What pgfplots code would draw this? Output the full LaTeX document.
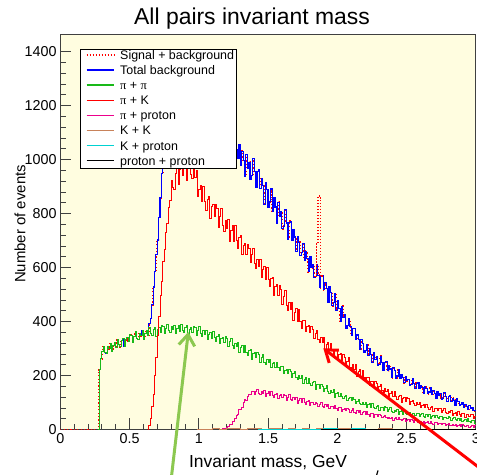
\documentclass[border=0pt]{standalone}
\usepackage{fontspec}
\setmainfont{Liberation Sans}
\newfontfamily\grk{Liberation Serif}
\usepackage{pgfplots}
\usepackage{pgfplotstable}
\pgfplotsset{compat=1.18}
\usetikzlibrary{arrows.meta}

\definecolor{bgyellow}{RGB}{255,253,224}
\definecolor{hgreen}{RGB}{25,185,25}
\definecolor{hbrown}{RGB}{200,130,90}
\definecolor{hcyan}{RGB}{0,210,210}
\definecolor{arrowgreen}{RGB}{140,200,80}

% invariant-mass spectra, 0.01 GeV bins (left bin edges)
% columns: total background, pi+pi, pi+K, pi+proton
\pgfplotstableread{
x tot pipi pik piprot
0.27 0 0 0 0
0.28 222 222 0 0
0.29 262 262 0 0
0.30 289 289 0 0
0.31 308 308 0 0
0.32 285 285 0 0
0.33 282 282 0 0
0.34 306 306 0 0
0.35 299 299 0 0
0.36 319 319 0 0
0.37 289 289 0 0
0.38 310 310 0 0
0.39 323 323 0 0
0.40 304 304 0 0
0.41 333 333 0 0
0.42 314 314 0 0
0.43 306 306 0 0
0.44 329 329 0 0
0.45 338 338 0 0
0.46 307 307 0 0
0.47 332 332 0 0
0.48 340 340 0 0
0.49 325 325 0 0
0.50 351 351 0 0
0.51 347 347 0 0
0.52 323 323 0 0
0.53 345 345 0 0
0.54 363 363 0 0
0.55 338 338 0 0
0.56 334 334 0 0
0.57 356 356 0 0
0.58 347 347 0 0
0.59 366 366 0 0
0.60 335 335 0 0
0.61 356 356 0 0
0.62 368 368 0 0
0.63 347 347 0 0
0.64 392 376 15 0
0.65 412 356 40 0
0.66 462 347 85 0
0.67 528 369 130 0
0.68 585 377 200 0
0.69 648 345 268 0
0.70 702 369 350 0
0.71 785 376 418 0
0.72 858 360 495 0
0.73 948 384 548 0
0.74 1012 380 622 0
0.75 1065 354 668 0
0.76 1098 374 731 0
0.77 1130 390 762 0
0.78 1152 365 821 0
0.79 1170 359 848 0
0.80 1182 380 924 0
0.81 1195 370 896 0
0.82 1188 387 889 0
0.83 1205 354 950 0
0.84 1196 374 975 0
0.85 1212 385 907 0
0.86 1201 362 963 0
0.87 1218 390 981 0
0.88 1204 368 942 0
0.89 1210 358 975 0
0.90 1198 379 970 0
0.91 1214 384 924 0
0.92 1190 351 969 0
0.93 1203 372 985 0
0.94 1185 378 945 0
0.95 1196 360 930 0
0.96 1172 382 968 0
0.97 1184 376 934 0
0.98 1165 349 958 0
0.99 1174 367 863 0
1.00 1150 382 888 0
1.01 1161 354 904 0
1.02 1138 346 845 0
1.03 1147 365 900 0
1.04 1126 353 844 0
1.05 1135 368 812 0
1.06 1118 334 853 0
1.07 1124 352 862 0
1.08 1106 360 780 0
1.09 1115 336 825 0
1.10 1098 362 833 0
1.11 1104 339 788 0
1.12 1088 327 835 0
1.13 1095 346 817 0
1.14 1079 351 750 0
1.15 1086 317 789 0
1.16 1070 337 819 0
1.17 1078 341 754 2
1.18 1062 322 733 4
1.19 1069 344 776 5
1.20 1055 336 746 8
1.21 1061 308 779 11
1.22 1047 325 698 17
1.23 1052 338 737 19
1.24 1038 310 755 29
1.25 1044 301 698 28
1.26 1030 319 755 40
1.27 1036 306 700 51
1.28 1005 321 670 55
1.29 1056 285 711 73
1.30 977 302 720 74
1.31 1031 310 648 80
1.32 997 285 682 99
1.33 938 310 688 110
1.34 1019 287 650 106
1.35 968 274 687 122
1.36 990 292 671 131
1.37 928 296 617 129
1.38 940 261 647 141
1.39 1004 280 670 141
1.40 956 284 616 128
1.41 895 265 598 140
1.42 957 285 629 149
1.43 963 278 604 133
1.44 892 249 628 128
1.45 930 266 562 141
1.46 903 279 591 134
1.47 835 250 604 143
1.48 914 241 557 122
1.49 888 259 600 134
1.50 824 247 555 139
1.51 843 258 529 125
1.52 891 230 560 140
1.53 809 243 564 127
1.54 860 248 497 119
1.55 824 229 531 131
1.56 763 248 536 134
1.57 842 229 498 113
1.58 788 219 535 126
1.59 807 232 518 129
1.60 743 234 463 117
1.61 753 206 492 130
1.62 815 220 514 126
1.63 765 223 460 109
1.64 704 207 441 120
1.65 766 222 472 128
1.66 772 216 446 111
1.67 701 193 471 106
1.68 739 206 404 117
1.69 713 215 434 110
1.70 659 193 447 119
1.71 715 186 400 98
1.72 694 199 444 108
1.73 644 189 400 114
1.74 656 199 375 99
1.75 689 172 403 114
1.76 626 185 405 101
1.77 661 191 362 93
1.78 632 171 383 105
1.79 584 190 386 108
1.80 641 172 361 90
1.81 599 162 383 99
1.82 612 175 372 101
1.83 562 178 337 92
1.84 567 150 355 101
1.85 611 165 368 98
1.86 572 168 332 85
1.87 525 152 321 93
1.88 569 168 340 99
1.89 572 161 324 86
1.90 517 139 339 82
1.91 544 152 297 91
1.92 523 162 315 85
1.93 471 139 323 92
1.94 529 132 292 76
1.95 508 146 320 84
1.96 458 136 291 87
1.97 471 147 274 76
1.98 505 120 295 88
1.99 442 133 297 77
2.00 478 136 255 71
2.01 449 122 277 80
2.02 401 135 280 82
2.03 457 122 256 66
2.04 414 114 278 75
2.05 426 124 268 77
2.06 376 125 234 69
2.07 385 106 253 79
2.08 410 115 266 75
2.09 382 117 231 63
2.10 348 106 220 71
2.11 374 117 240 77
2.12 373 112 224 64
2.13 335 96 239 60
2.14 350 105 197 69
2.15 333 112 216 63
2.16 298 96 223 70
2.17 334 91 192 54
2.18 319 100 220 62
2.19 286 93 192 66
2.20 293 101 179 55
2.21 315 82 191 67
2.22 274 91 193 56
2.23 298 95 164 50
2.24 279 82 178 59
2.25 248 95 179 61
2.26 286 83 163 45
2.27 260 76 178 54
2.28 269 86 170 56
2.29 237 88 147 47
2.30 242 70 159 55
2.31 272 80 168 52
2.32 248 82 145 44
2.33 218 72 138 49
2.34 248 84 151 53
2.35 251 80 140 44
2.36 217 65 150 41
2.37 236 74 123 46
2.38 224 81 135 42
2.39 191 66 141 46
2.40 230 62 121 35
2.41 218 72 140 40
2.42 188 66 121 43
2.43 198 74 111 36
2.44 222 55 124 44
2.45 188 65 127 37
2.46 204 69 100 33
2.47 192 57 115 38
2.48 173 71 118 40
2.49 197 59 103 29
2.50 180 54 119 35
2.51 186 62 113 36
2.52 165 63 91 30
2.53 168 50 105 37
2.54 187 58 109 35
2.55 171 60 95 26
2.56 152 52 90 32
2.57 172 61 99 36
2.58 173 58 92 27
2.59 151 48 99 25
2.60 163 55 82 30
2.61 155 60 90 27
2.62 134 49 92 31
2.63 159 46 81 21
2.64 152 54 92 26
2.65 132 49 81 28
2.66 139 55 75 22
2.67 154 42 83 28
2.68 129 49 85 23
2.69 145 52 68 20
2.70 134 43 77 25
2.71 116 53 79 25
2.72 141 44 70 17
2.73 125 40 79 22
2.74 132 47 76 23
2.75 112 49 63 18
2.76 116 36 71 23
2.77 136 44 77 22
2.78 121 46 63 15
2.79 103 39 59 19
2.80 123 47 68 22
2.81 125 44 62 16
2.82 104 34 69 14
2.83 116 41 53 19
2.84 109 46 61 16
2.85 89 36 64 19
2.86 113 32 53 11
2.87 103 40 65 15
2.88 88 35 55 18
2.89 91 41 49 12
2.90 99 28 58 18
2.91 83 35 60 13
2.92 93 38 44 10
2.93 86 29 54 14
2.94 74 39 56 15
2.95 90 31 47 8
2.96 79 26 57 12
2.97 82 33 54 13
2.98 69 35 42 9
2.99 70 22 50 14
3.00 70 22 50 14
}\spectra

% signal + background around the narrow peak
\pgfplotstableread{
x sb
1.84 567
1.85 690
1.86 865
1.87 858
1.88 569
1.89 572
}\sbpeak

\begin{document}
\begin{tikzpicture}
\begin{axis}[
  scale only axis,
  width=415.5bp, height=395.5bp,
  xmin=0, xmax=3, ymin=0, ymax=1465,
  axis background/.style={fill=bgyellow},
  axis line style={draw=black!75, line width=0.8bp},
  tick pos=left,
  tick align=inside,
  xtick={0,0.5,1,1.5,2,2.5,3},
  xticklabels={0,0.5,1,1.5,2,2.5,3},
  ytick={0,200,400,600,800,1000,1200,1400},
  yticklabels={0,200,400,600,800,1000,1200,1400},
  minor x tick num=4,
  minor y tick num=4,
  major tick length=11bp,
  minor tick length=5.5bp,
  every tick/.style={draw=black!75, line width=0.7bp},
  ticklabel style={font=\fontsize{14.4}{14.4}\selectfont, inner sep=0pt},
  xticklabel style={yshift=-3.5bp},
  yticklabel style={xshift=-3.6bp},
  title={All pairs invariant mass},
  every axis title/.style={at={(axis description cs:0.4614,1.0228)}, anchor=base,
    font=\fontsize{23}{23}\selectfont, inner sep=0pt},
  xlabel={Invariant mass, GeV},
  every axis x label/.style={at={(axis description cs:0.5,-0.0973)}, anchor=base,
    font=\fontsize{17.5}{17.5}\selectfont, inner sep=0pt},
  ylabel={Number of events},
  every axis y label/.style={at={(axis description cs:-0.097,0.5196)}, rotate=90,
    anchor=center, font=\fontsize{15}{15}\selectfont, inner sep=0pt},
  every axis plot/.append style={line width=1bp},
]
% signal + background, drawn first so it peeks out around the total background
\addplot[red, line width=1.5bp, dash pattern=on 1.2bp off 2.2bp] coordinates {(0,0) (0.27,0)};
\addplot[red, line width=1.5bp, dash pattern=on 1.2bp off 2.2bp, const plot] table[x=x, y=tot] {\spectra};

% background components
\addplot[blue, line width=1.1bp, const plot] table[x=x, y=tot] {\spectra};
\addplot[hgreen, const plot] table[x=x, y=pipi] {\spectra};
\addplot[red, const plot, restrict x to domain=0.63:3] table[x=x, y=pik] {\spectra};
\addplot[magenta, const plot, restrict x to domain=1.16:3] table[x=x, y=piprot] {\spectra};
\addplot[hbrown, const plot] coordinates {
  (0.99,0) (1.05,1) (1.10,2) (1.15,1) (1.20,3) (1.25,2) (1.30,1) (1.35,3) (1.40,2)
  (1.45,1) (1.50,2) (1.55,3) (1.60,1) (1.65,2) (1.70,1) (1.75,2) (1.80,1) (1.85,2)
  (1.90,1) (1.95,1) (2.00,2) (2.10,1) (2.20,1) (2.30,2) (2.40,1) (2.50,1) (2.60,0)
  (2.70,1) (2.80,0) (2.90,1) (3.00,0)};
\addplot[hcyan, const plot] coordinates {
  (1.43,0) (1.50,1) (1.60,0) (1.70,1) (1.80,1) (1.90,2) (2.00,1) (2.10,2) (2.20,1)
  (2.30,1) (2.40,0) (2.50,1) (2.60,0) (2.80,1) (3.00,0)};
\addplot[black, const plot] coordinates {(1.88,0) (3.00,0)};

% the narrow signal peak
\addplot[red, line width=1.2bp, dash pattern=on 1.5bp off 1.5bp, const plot] table[x=x, y=sb] {\sbpeak};
\end{axis}

% key box (axis frame origin at the lower left corner, units bp)
\begin{scope}[font=\fontsize{12.5}{15}\selectfont]
  \draw[black, line width=0.6bp, fill=white] (20.4bp,261.5bp) rectangle (176.4bp,380.5bp);
  \draw[red, line width=1.4bp, dash pattern=on 1.5bp off 1.5bp] (26.4bp,374.5bp) -- (53.7bp,374.5bp);
  \node[anchor=base west, inner sep=0pt] at (59.7bp,370.0bp) {Signal + background};
  \draw[blue, line width=1.4bp] (26.4bp,359.4bp) -- (53.7bp,359.4bp);
  \node[anchor=base west, inner sep=0pt] at (59.7bp,354.9bp) {Total background};
  \draw[hgreen, line width=1.4bp] (26.4bp,344.3bp) -- (53.7bp,344.3bp);
  \node[anchor=base west, inner sep=0pt] at (59.7bp,339.8bp) {{\grk π} + {\grk π}};
  \draw[red, line width=1.4bp] (26.4bp,329.2bp) -- (53.7bp,329.2bp);
  \node[anchor=base west, inner sep=0pt] at (59.7bp,324.7bp) {{\grk π} + K};
  \draw[magenta, line width=1.4bp] (26.4bp,314.1bp) -- (53.7bp,314.1bp);
  \node[anchor=base west, inner sep=0pt] at (59.7bp,309.6bp) {{\grk π} + proton};
  \draw[hbrown, line width=1.4bp] (26.4bp,299.0bp) -- (53.7bp,299.0bp);
  \node[anchor=base west, inner sep=0pt] at (59.7bp,294.5bp) {K + K};
  \draw[hcyan, line width=1.4bp] (26.4bp,283.9bp) -- (53.7bp,283.9bp);
  \node[anchor=base west, inner sep=0pt] at (59.7bp,279.4bp) {K + proton};
  \draw[black, line width=1.4bp] (26.4bp,268.8bp) -- (53.7bp,268.8bp);
  \node[anchor=base west, inner sep=0pt] at (59.7bp,264.3bp) {proton + proton};
\end{scope}

% annotation arrows
\draw[arrowgreen, line width=3bp, -{Straight Barb[length=11bp,width=16bp]}]
  (110.6bp,-52bp) -- (128.0bp,97.5bp);
\draw[red, line width=3bp, -{Straight Barb[length=11bp,width=16bp]}]
  (439.7bp,-54.1bp) -- (263.0bp,81.2bp);
\draw[black, line width=1.2bp] (316.2bp,-46bp) -- (317.7bp,-41bp);

\pgfresetboundingbox
\useasboundingbox (-60.3bp,-45.5bp) rectangle (416.7bp,429.5bp);
\end{tikzpicture}
\end{document}
